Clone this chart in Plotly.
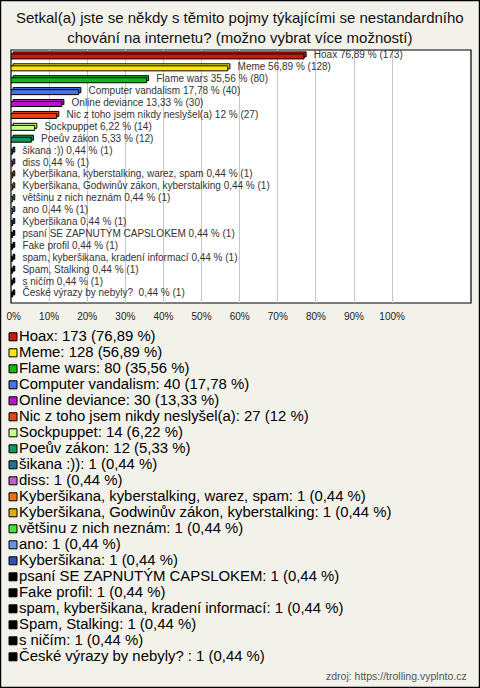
import plotly.graph_objects as go

categories = [
    "Hoax", "Meme", "Flame wars", "Computer vandalism", "Online deviance",
    "Nic z toho jsem nikdy neslyšel(a)", "Sockpuppet", "Poeův zákon", "šikana :))", "diss",
    "Kyberšikana, kyberstalking, warez, spam", "Kyberšikana, Godwinův zákon, kyberstalking",
    "většinu z nich neznám", "ano", "Kyberšikana", "psaní SE ZAPNUTÝM CAPSLOKEM",
    "Fake profil", "spam, kyberšikana, kradení informací", "Spam, Stalking", "s ničím",
    "České výrazy by nebyly? ",
]
counts = [173, 128, 80, 40, 30, 27, 14, 12, 1, 1, 1, 1, 1, 1, 1, 1, 1, 1, 1, 1, 1]
percents = [76.89, 56.89, 35.56, 17.78, 13.33, 12, 6.22, 5.33, 0.44, 0.44, 0.44, 0.44,
            0.44, 0.44, 0.44, 0.44, 0.44, 0.44, 0.44, 0.44, 0.44]
colors = [
    "#cc1a0a", "#ffe800", "#14b814", "#4474e8", "#b814c8", "#e84414", "#c8ff88",
    "#109858", "#1e7494", "#c060c8", "#e87410", "#e0aa10", "#44e044", "#6694e4",
    "#3050b4", "#000000", "#000000", "#000000", "#000000", "#000000", "#000000",
]
x_ticks = [0, 10, 20, 30, 40, 50, 60, 70, 80, 90, 100]
x_tick_labels = ["0%", "10%", "20%", "30%", "40%", "50%", "60%", "70%", "80%", "90%", "100%"]

title_lines = [
    "Setkal(a) jste se někdy s těmito pojmy týkajícími se nestandardního",
    "chování na internetu? (možno vybrat více možností)",
]
source_text = "zdroj: https://trolling.vyplnto.cz"

W, H = 480, 688
FONT = "Liberation Sans, Arial, sans-serif"


def fmt(p):
    s = f"{p:.2f}".rstrip("0").rstrip(".")
    return s.replace(".", ",")


def nb(s):
    return s.replace("  ", " \u00a0").replace("? ", "?\u00a0")


rows = list(range(len(categories)))
bar_labels = [nb(f"{c} {fmt(p)} % ({n})") for c, p, n in zip(categories, percents, counts)]
legend_labels = [nb(f"{c}: {n} ({fmt(p)} %)") for c, p, n in zip(categories, percents, counts)]

fig = go.Figure()

# back (3D top/side face)
fig.add_trace(go.Bar(
    x=percents, y=rows, base=[0.55] * len(rows), orientation="h",
    width=0.42, offset=-0.34,
    marker=dict(color=colors, line=dict(color="#000000", width=1)),
    hoverinfo="skip", showlegend=False,
))
# front face
fig.add_trace(go.Bar(
    x=percents, y=rows, orientation="h",
    width=0.42, offset=-0.17,
    marker=dict(color=colors, line=dict(color="#000000", width=1)),
    hoverinfo="skip", showlegend=False,
))
# value labels after the bars
fig.add_trace(go.Scatter(
    x=percents, y=rows, mode="markers+text",
    text=bar_labels, textposition="middle right",
    textfont=dict(family=FONT, size=10, color="#333333"),
    marker=dict(size=14, color="rgba(0,0,0,0)"),
    hoverinfo="skip", showlegend=False, cliponaxis=False,
))

# legend block
fig.add_trace(go.Scatter(
    x=[13] * len(rows), y=rows, mode="markers+text",
    text=legend_labels, textposition="middle right",
    textfont=dict(family=FONT, size=14.9, color="#000000"),
    marker=dict(symbol="square", size=8, color=colors, line=dict(color="#000000", width=1)),
    xaxis="x2", yaxis="y2", hoverinfo="skip", showlegend=False, cliponaxis=False,
))

tick_text = list(x_tick_labels)
tick_text[0] = "\u00a0" * 2 + tick_text[0]

fig.update_layout(
    width=W, height=H,
    margin=dict(l=0, r=0, t=0, b=0, autoexpand=False),
    paper_bgcolor="#f3f2ea",
    plot_bgcolor="rgba(0,0,0,0)",
    barmode="overlay",
    showlegend=False,
    font=dict(family=FONT),
    xaxis=dict(
        domain=[11 / W, 471 / W], range=[0, 120.7],
        tickvals=x_ticks, ticktext=tick_text,
        showgrid=True, gridcolor="#c6c6c6", gridwidth=1,
        zeroline=False, showline=False,
        ticks="outside", ticklen=4, tickcolor="rgba(0,0,0,0)",
        tickfont=dict(family=FONT, size=10, color="#222222"),
        ticklabeloverflow="allow", automargin=False,
        anchor="y", fixedrange=True,
    ),
    yaxis=dict(
        domain=[1 - 303 / H, 1 - 50 / H], range=[20.76, -0.5],
        showticklabels=False, showgrid=False, zeroline=False, showline=False,
        automargin=False, anchor="x", fixedrange=True,
    ),
    xaxis2=dict(domain=[0, 1], range=[0, W], visible=False, anchor="y2",
                automargin=False, fixedrange=True),
    yaxis2=dict(domain=[1 - 680 / H, 1 - 320 / H], range=[21.45, -1.05],
                visible=False, anchor="x2", automargin=False, fixedrange=True),
    shapes=[
        dict(type="rect", xref="x domain", yref="y domain", x0=0, x1=1, y0=0, y1=1,
             fillcolor="#ffffff", line=dict(color="#000000", width=1.2), layer="below"),
        dict(type="rect", xref="paper", yref="paper",
             x0=0.6 / W, x1=1 - 0.6 / W, y0=0.6 / H, y1=1 - 0.6 / H,
             fillcolor="rgba(0,0,0,0)", line=dict(color="#000000", width=1.2), layer="above"),
    ],
    annotations=[
        dict(text="<br>".join(title_lines), xref="paper", yref="paper", x=0.5, y=1 - 27.5 / H,
             xanchor="center", yanchor="middle", showarrow=False, align="center",
             font=dict(family=FONT, size=15, color="#111111")),
        dict(text=source_text, xref="paper", yref="paper", x=1 - 11 / W, y=1 - 676 / H,
             xanchor="right", yanchor="middle", showarrow=False,
             font=dict(family=FONT, size=10.5, color="#555555")),
    ],
)

fig.write_html(
    "out.html",
    config={"displayModeBar": False, "staticPlot": True},
    post_script="document.body.style.margin='0px';document.body.style.padding='0px';"
                "document.body.style.overflow='hidden';",
)
